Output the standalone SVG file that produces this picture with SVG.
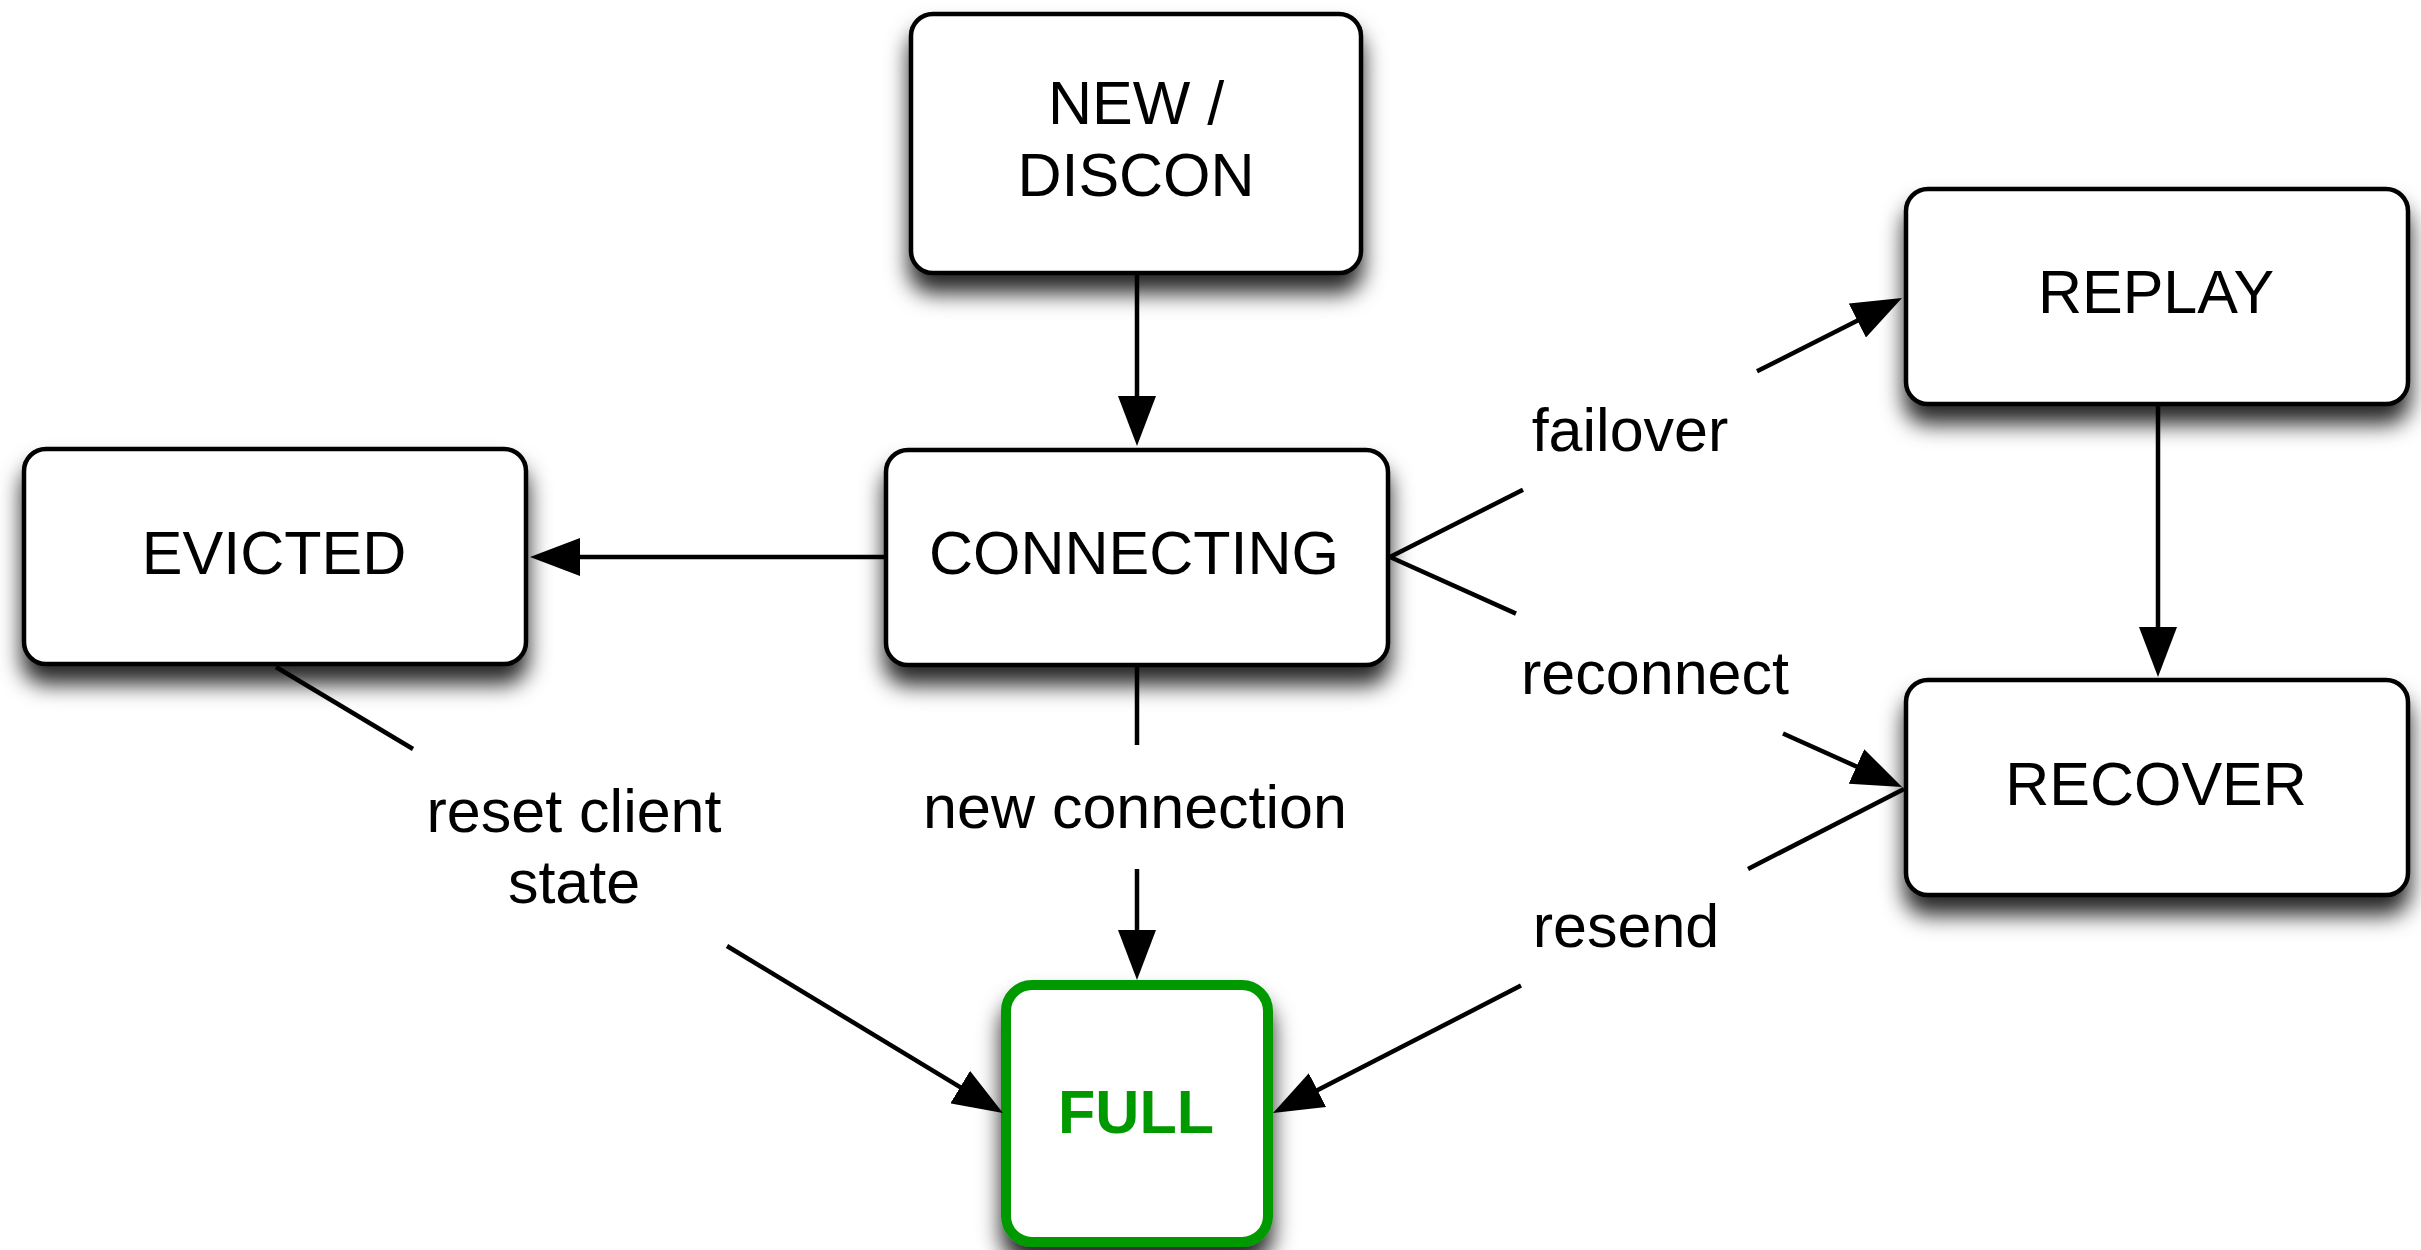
<svg xmlns="http://www.w3.org/2000/svg" width="2421" height="1250" viewBox="0 0 2421 1250">
  <style>
    .box { fill: #ffffff; stroke: #000000; stroke-width: 4.5; filter: url(#shadow); }
    .final { fill: #ffffff; stroke: #009900; stroke-width: 10; filter: url(#shadow); }
    .name { font-family: "Liberation Sans", Arial, Helvetica, sans-serif; font-size: 61px; fill: #000000; text-anchor: middle; }
    .finalname { font-family: "Liberation Sans", Arial, Helvetica, sans-serif; font-size: 61px; font-weight: bold; fill: #009900; text-anchor: middle; }
    .edge { fill: none; stroke: #000000; stroke-width: 4.5; }
    .label { font-family: "Liberation Sans", Arial, Helvetica, sans-serif; font-size: 61px; fill: #000000; text-anchor: middle; }
  </style>
  <defs>
    <filter id="shadow" x="-20%" y="-20%" width="140%" height="160%">
      <feDropShadow dx="0" dy="18" stdDeviation="11" flood-color="#000000" flood-opacity="0.85"/>
    </filter>
    <marker id="arrow" markerUnits="userSpaceOnUse" markerWidth="50" markerHeight="38" refX="38" refY="19" orient="auto">
      <path d="M0,0 L50,19 L0,38 Z" fill="#000000"/>
    </marker>
  </defs>

  <rect width="2421" height="1250" fill="#ffffff"/>

  <!-- states -->
  <g id="node-new-discon">
    <rect class="box" x="911" y="14" width="450" height="259" rx="22" ry="22"/>
    <text class="name" x="1136" y="124">NEW /</text>
    <text class="name" x="1136" y="196">DISCON</text>
  </g>
  <g id="node-connecting">
    <rect class="box" x="886" y="450" width="502" height="215" rx="22" ry="22"/>
    <text class="name" x="1134" y="574">CONNECTING</text>
  </g>
  <g id="node-evicted">
    <rect class="box" x="24" y="449" width="502" height="215" rx="22" ry="22"/>
    <text class="name" x="274" y="574">EVICTED</text>
  </g>
  <g id="node-replay">
    <rect class="box" x="1906" y="189" width="502" height="215" rx="22" ry="22"/>
    <text class="name" x="2156" y="313">REPLAY</text>
  </g>
  <g id="node-recover">
    <rect class="box" x="1906" y="680" width="502" height="215" rx="22" ry="22"/>
    <text class="name" x="2156" y="805">RECOVER</text>
  </g>
  <g id="node-full">
    <rect class="final" x="1006" y="985" width="262" height="257" rx="26" ry="26"/>
    <text class="finalname" x="1136" y="1133">FULL</text>
  </g>

  <!-- transitions -->
  <g id="connectors">
    <path class="edge" d="M1137,275 L1137,434" marker-end="url(#arrow)"/>
    <path class="edge" d="M884,557 L542,557" marker-end="url(#arrow)"/>

    <path class="edge" d="M1137,667 L1137,745"/>
    <path class="edge" d="M1137,869 L1137,968" marker-end="url(#arrow)"/>
    <text class="label" x="1135" y="828">new connection</text>

    <path class="edge" d="M276,667 L413,749"/>
    <path class="edge" d="M727,946 L992.7,1106.8" marker-end="url(#arrow)"/>
    <text class="label" x="574" y="832">reset client</text>
    <text class="label" x="574" y="903">state</text>

    <path class="edge" d="M1390,557 L1523,489.7"/>
    <path class="edge" d="M1757,371.3 L1891.3,303.4" marker-end="url(#arrow)"/>
    <text class="label" x="1630" y="451">failover</text>

    <path class="edge" d="M1390,557 L1516,613.6"/>
    <path class="edge" d="M1783,733.5 L1891.1,782.1" marker-end="url(#arrow)"/>
    <text class="label" x="1655" y="694">reconnect</text>

    <path class="edge" d="M2158,405 L2158,665" marker-end="url(#arrow)"/>

    <path class="edge" d="M1904,789 L1748,869"/>
    <path class="edge" d="M1521,985.6 L1283.7,1107.5" marker-end="url(#arrow)"/>
    <text class="label" x="1626" y="947">resend</text>
  </g>
</svg>
